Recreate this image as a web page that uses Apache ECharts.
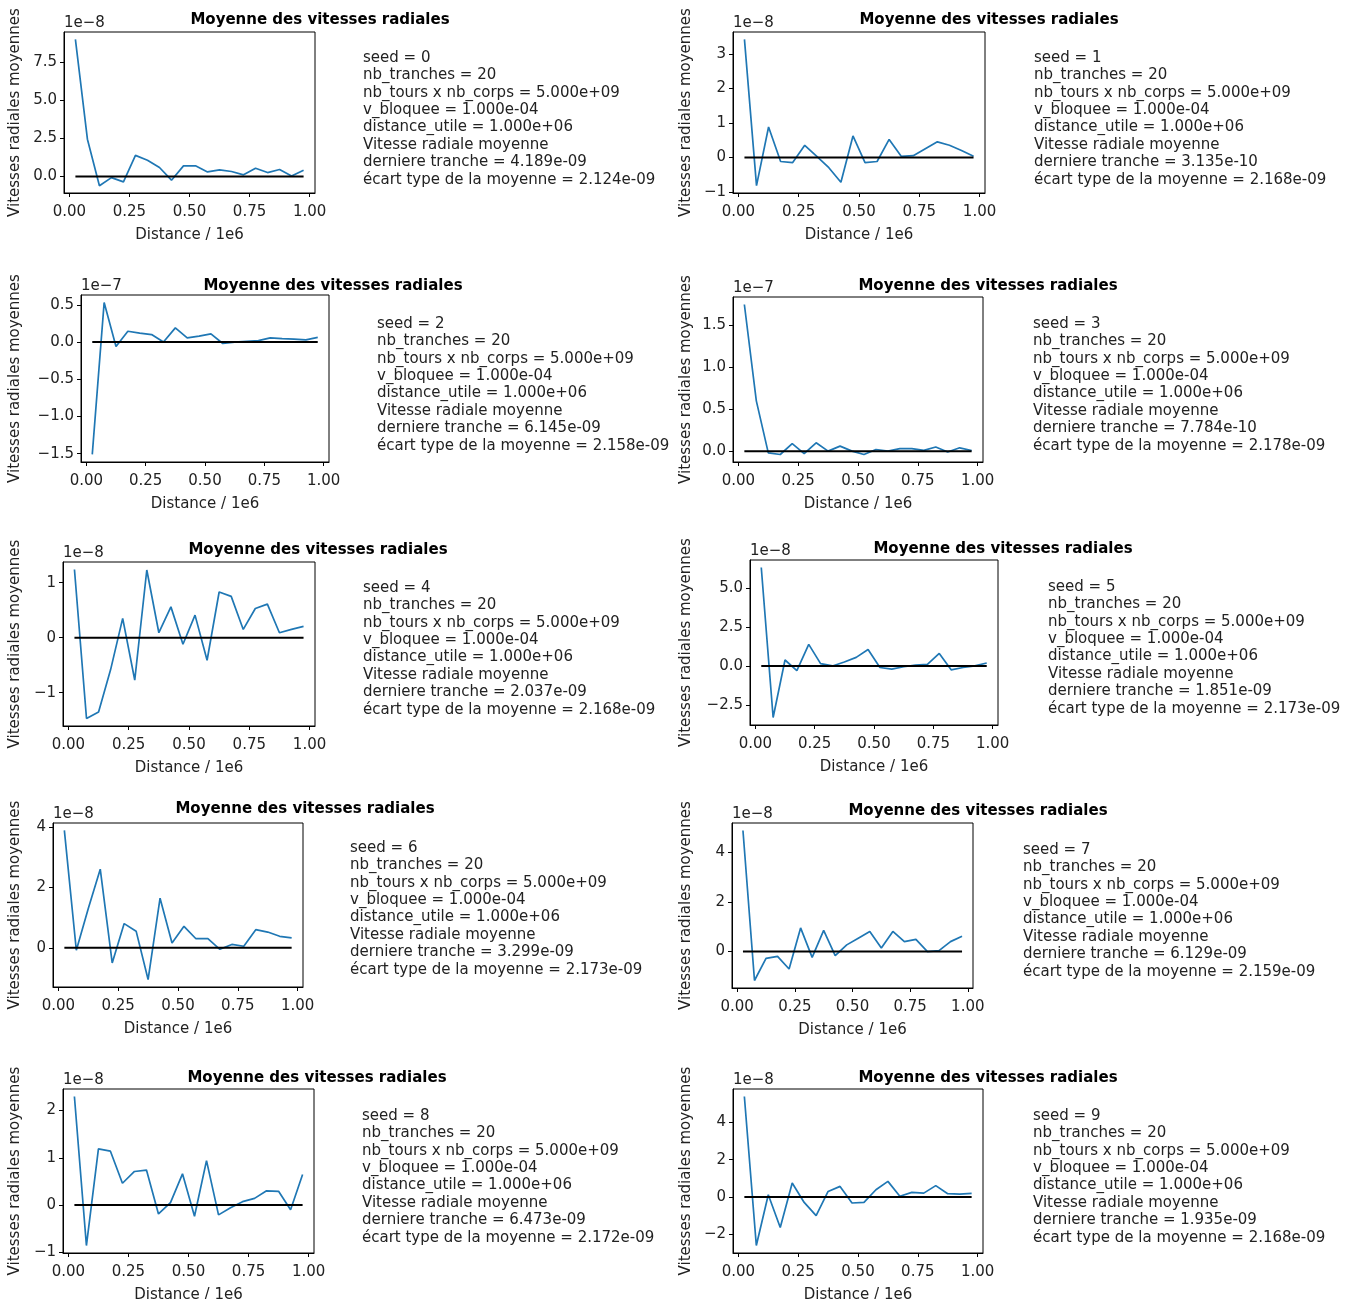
<!DOCTYPE html>
<html>
<head>
<meta charset="utf-8">
<script src="https://cdn.jsdelivr.net/npm/echarts@6/dist/echarts.min.js"></script>
<style>html,body{margin:0;padding:0;background:#fff}#c{width:1355px;height:1299px}</style>
</head>
<body>
<div id="c"></div>
<script>
// ---------- DATA ----------
const distances = [0.025,0.075,0.125,0.175,0.225,0.275,0.325,0.375,0.425,0.475,0.525,0.575,0.625,0.675,0.725,0.775,0.825,0.875,0.925,0.975]; // x 1e6
const seeds = [0,1,2,3,4,5,6,7,8,9];
// mean radial velocities, in units of 10^exponent
const exponents = [-8,-8,-7,-7,-8,-8,-8,-8,-8,-8];
const vSeed0 = [9.0,2.45,-0.6,-0.07,-0.35,1.39,1.07,0.59,-0.24,0.7,0.7,0.3,0.44,0.33,0.11,0.54,0.26,0.46,0.04,0.419];
const vSeed1 = [3.42,-0.82,0.88,-0.12,-0.15,0.35,0.03,-0.3,-0.72,0.62,-0.15,-0.12,0.52,0.03,0.05,0.25,0.45,0.35,0.2,0.031];
const vSeed2 = [-1.51,0.53,-0.06,0.145,0.12,0.1,0.0,0.19,0.055,0.08,0.11,-0.02,0.0,0.01,0.02,0.055,0.045,0.04,0.03,0.0615];
const vSeed3 = [1.75,0.6,-0.02,-0.04,0.09,-0.03,0.1,0.0,0.06,0.0,-0.04,0.02,0.0,0.03,0.03,0.01,0.05,-0.01,0.04,0.0078];
const vSeed4 = [1.24,-1.47,-1.35,-0.58,0.35,-0.77,1.23,0.09,0.56,-0.12,0.41,-0.41,0.83,0.75,0.15,0.53,0.61,0.09,0.15,0.204];
const vSeed5 = [6.3,-3.3,0.38,-0.3,1.38,0.15,0.0,0.25,0.55,1.05,-0.1,-0.2,-0.05,0.05,0.1,0.8,-0.25,-0.1,0.0,0.185];
const vSeed6 = [3.88,-0.08,1.3,2.6,-0.5,0.8,0.55,-1.05,1.64,0.16,0.71,0.3,0.3,-0.05,0.11,0.05,0.6,0.52,0.38,0.33];
const vSeed7 = [4.86,-1.16,-0.27,-0.19,-0.7,0.95,-0.23,0.85,-0.16,0.27,0.54,0.81,0.14,0.81,0.4,0.49,0.0,0.04,0.4,0.613];
const vSeed8 = [2.3,-0.86,1.19,1.14,0.46,0.71,0.74,-0.19,0.05,0.66,-0.24,0.94,-0.21,-0.06,0.07,0.14,0.3,0.29,-0.1,0.647];
const vSeed9 = [5.39,-2.6,0.12,-1.63,0.75,-0.29,-1.0,0.3,0.57,-0.32,-0.29,0.39,0.84,0.04,0.25,0.21,0.61,0.18,0.16,0.194];
const values = [vSeed0,vSeed1,vSeed2,vSeed3,vSeed4,vSeed5,vSeed6,vSeed7,vSeed8,vSeed9];
const zeroLevel = 0;
// tick labels
const xTicks = [0,0.25,0.5,0.75,1.0];
const yTicks = [
  [0,2.5,5,7.5],[-1,0,1,2,3],[-1.5,-1.0,-0.5,0,0.5],[0,0.5,1.0,1.5],[-1,0,1],
  [-2.5,0,2.5,5],[0,2,4],[0,2,4],[-1,0,1,2],[-2,0,2,4]
];
const yDecimals = [1,0,1,1,0,1,0,0,0,0];
const lastSlice = ['4.189e-09','3.135e-10','6.145e-09','7.784e-10','2.037e-09','1.851e-09','3.299e-09','6.129e-09','6.473e-09','1.935e-09'];
const stdMean = ['2.124e-09','2.168e-09','2.158e-09','2.178e-09','2.168e-09','2.173e-09','2.173e-09','2.159e-09','2.172e-09','2.168e-09'];
const nbTranches = '20', nbToursCorps = '5.000e+09', vBloquee = '1.000e-04', distanceUtile = '1.000e+06';
const titleText = 'Moyenne des vitesses radiales';
const xName = 'Distance / 1e6';
const yName = 'Vitesses radiales moyennes';

// ---------- LAYOUT ----------
// axes boxes [left, top, right, bottom]
const boxes = [
  [64,32,315,193],[733,32,985,193],
  [81,295,329,462],[733,297,983,462],
  [63,562,315,726],[750,560,998,725],
  [53,823,303,987],[732,823,973,988],
  [63,1089,314,1253],[733,1089,983,1253]
];
const titlePos = [[320,18],[989,18],[333,284],[988,284],[318,548],[1003,547],[305,807],[978,809],[317,1076],[988,1076]];
const infoPos = [[363,56],[1034,56],[377,322],[1033,322],[363,586],[1048,585],[350,846],[1023,848],[362,1114],[1033,1114]];
const yLabelX = [15,686];

const FONT = '"DejaVu Sans", sans-serif';
const minus = s => s.replace('-', '\u2212');

const grids = [], xAxes = [], yAxes = [], series = [], graphics = [];
seeds.forEach((s, i) => {
  const [L,T,R,B] = boxes[i];
  grids.push({left:L, top:T, width:R-L, height:B-T, show:true, borderColor:'#000', borderWidth:1,
    containLabel:false, outerBoundsMode:'none'});
  const xr = distances[distances.length-1] - distances[0];
  const xmin = distances[0] - 0.05*xr, xmax = distances[distances.length-1] + 0.05*xr;
  const vals = values[i];
  const dmin = Math.min(zeroLevel, ...vals), dmax = Math.max(zeroLevel, ...vals);
  const yr = dmax - dmin;
  xAxes.push({type:'value', gridIndex:i, min:xmin, max:xmax,
    name:xName, nameLocation:'middle', nameGap:35, nameMoveOverlap:false,
    nameTextStyle:{fontFamily:FONT, fontSize:15, color:'#222'},
    axisLine:{show:true, onZero:false, lineStyle:{color:'#000', width:1}},
    axisTick:{show:true, length:4, customValues:xTicks, lineStyle:{color:'#000'}},
    axisLabel:{customValues:xTicks, margin:12, fontFamily:FONT, fontSize:15, color:'#222',
      formatter:v=>v.toFixed(2)},
    splitLine:{show:false}});
  const col = (L > 600) ? 1 : 0;
  yAxes.push({type:'value', gridIndex:i, min:dmin-0.05*yr, max:dmax+0.05*yr,
    name:yName, nameLocation:'middle', nameRotate:90, nameGap:L - yLabelX[col] - 8, nameMoveOverlap:false,
    nameTextStyle:{fontFamily:FONT, fontSize:15, color:'#222'},
    axisLine:{show:true, onZero:false, lineStyle:{color:'#000', width:1}},
    axisTick:{show:true, length:4, customValues:yTicks[i], lineStyle:{color:'#000'}},
    axisLabel:{customValues:yTicks[i], margin:7, fontFamily:FONT, fontSize:15, color:'#222',
      formatter:v=>{const t=Math.abs(v).toFixed(yDecimals[i]); return (v<0?'\u2212':'')+t;}},
    splitLine:{show:false}});
  series.push({type:'line', xAxisIndex:i, yAxisIndex:i, data:distances.map((d,k)=>[d, vals[k]]),
    showSymbol:false, symbol:'none', lineStyle:{color:'#1f77b4', width:1.7}, z:2, animation:false});
  series.push({type:'line', xAxisIndex:i, yAxisIndex:i, data:distances.map(d=>[d, zeroLevel]),
    showSymbol:false, symbol:'none', lineStyle:{color:'#000', width:2}, z:3, animation:false});
  // title
  graphics.push({type:'text', x:titlePos[i][0], y:titlePos[i][1]+2, z:10,
    style:{text:titleText, font:'bold 15px '+FONT, fill:'#000', textAlign:'center', textVerticalAlign:'middle', align:'center', verticalAlign:'middle'}});
  // offset text
  graphics.push({type:'text', x:L, y:T-9, z:10,
    style:{text:'1e' + minus(String(exponents[i])), font:'15px '+FONT, fill:'#222', textAlign:'left', textVerticalAlign:'middle', align:'left', verticalAlign:'middle'}});
  // info block
  const info = ['seed = ' + s,
    'nb_tranches = ' + nbTranches,
    'nb_tours x nb_corps = ' + nbToursCorps,
    'v_bloquee = ' + vBloquee,
    'distance_utile = ' + distanceUtile,
    'Vitesse radiale moyenne',
    'derniere tranche = ' + lastSlice[i],
    '\u00e9cart type de la moyenne = ' + stdMean[i]].join('\n');
  graphics.push({type:'text', x:infoPos[i][0], y:infoPos[i][1]-6.7, z:10,
    style:{text:info, font:'15px '+FONT, fill:'#222', lineHeight:17.4, textAlign:'left', textVerticalAlign:'top', align:'left', verticalAlign:'top'}});
});

const chart = echarts.init(document.getElementById('c'), null, {renderer:'canvas'});
chart.setOption({
  animation:false,
  backgroundColor:'#fff',
  grid:grids, xAxis:xAxes, yAxis:yAxes, series:series, graphic:graphics
});
</script>
</body>
</html>
